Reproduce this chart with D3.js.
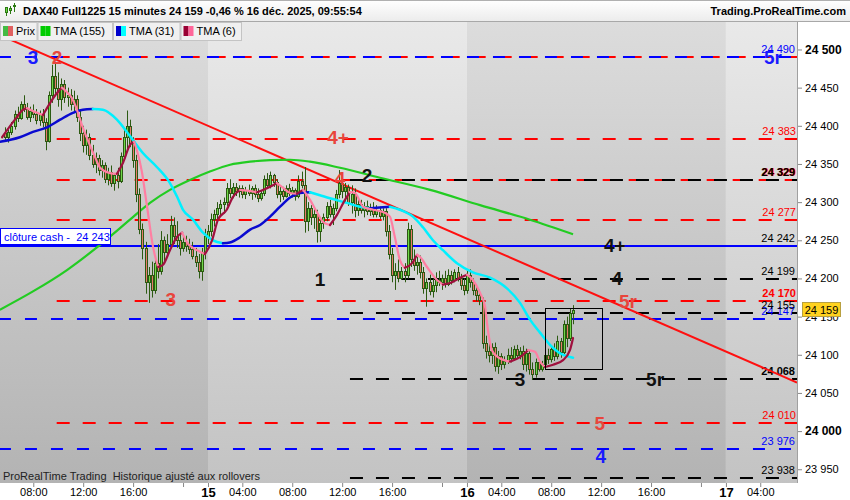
<!DOCTYPE html>
<html><head><meta charset="utf-8">
<script src="https://cdn.jsdelivr.net/npm/d3@7"></script>
<style>body{margin:0;background:#fff;} svg{display:block;font-family:"Liberation Sans",Arial,sans-serif;}</style>
</head><body><svg id="c" width="850" height="500"></svg>
<script>
// ---------------- DATA ----------------
// 15-minute candles [open, high, low, close], bar 0 = Fri 12 Dec 05:45
const candles = [
[24390,24398,24380,24385],[24385,24395,24378,24392],[24392,24405,24388,24400],[24400,24420,24395,24415],
[24415,24425,24405,24410],[24410,24432,24408,24428],[24428,24440,24418,24422],[24422,24430,24408,24412],
[24412,24425,24405,24420],[24420,24428,24410,24415],[24415,24422,24402,24408],[24408,24420,24400,24416],
[24416,24422,24398,24405],[24405,24410,24368,24380],[24380,24445,24378,24440],[24440,24480,24430,24465],
[24465,24482,24440,24450],[24450,24470,24425,24435],[24435,24462,24420,24455],[24455,24460,24430,24438],
[24438,24450,24425,24440],[24440,24448,24420,24428],[24428,24446,24418,24435],[24435,24440,24405,24412],
[24412,24420,24380,24390],[24390,24400,24365,24375],[24375,24395,24362,24385],[24385,24390,24355,24362],
[24362,24375,24345,24350],[24350,24365,24338,24358],[24358,24362,24335,24342],[24342,24355,24332,24348],
[24348,24352,24325,24330],[24330,24345,24322,24340],[24340,24348,24320,24325],[24325,24338,24315,24335],
[24335,24345,24318,24328],[24328,24365,24325,24360],[24360,24395,24355,24385],[24385,24420,24370,24400],
[24400,24408,24372,24378],[24378,24385,24345,24355],[24355,24362,24300,24310],[24310,24318,24258,24265],
[24265,24272,24225,24240],[24240,24248,24180,24195],[24195,24215,24168,24205],[24205,24222,24175,24185],
[24185,24230,24180,24220],[24220,24245,24200,24210],[24210,24262,24205,24250],[24250,24255,24220,24235],
[24235,24258,24228,24245],[24245,24282,24240,24270],[24270,24280,24245,24255],[24255,24275,24240,24250],
[24250,24258,24230,24240],[24240,24255,24235,24248],[24248,24256,24235,24242],[24242,24252,24232,24238],
[24238,24248,24225,24230],[24230,24240,24215,24222],[24222,24232,24200,24210],[24210,24240,24197,24235],
[24235,24265,24225,24255],
// Mon 15 Dec
[24255,24270,24245,24262],[24262,24285,24255,24278],[24278,24290,24268,24285],[24285,24300,24275,24292],
[24292,24303,24282,24298],[24298,24306,24285,24300],[24300,24325,24295,24318],[24318,24330,24305,24312],
[24312,24325,24305,24320],[24320,24325,24308,24315],[24315,24322,24306,24318],[24318,24322,24305,24310],
[24310,24320,24304,24316],[24316,24323,24308,24312],[24312,24321,24303,24318],[24318,24323,24306,24310],
[24310,24318,24300,24306],[24306,24315,24302,24312],[24312,24335,24308,24330],[24330,24338,24318,24322],
[24322,24340,24318,24335],[24335,24337,24320,24326],[24326,24330,24305,24310],[24310,24322,24300,24315],
[24315,24320,24303,24308],[24308,24322,24306,24318],[24318,24324,24308,24312],[24312,24320,24306,24316],
[24316,24318,24302,24308],[24308,24335,24305,24328],[24328,24340,24318,24322],[24322,24346,24260,24275],
[24275,24300,24262,24292],[24292,24296,24270,24280],[24280,24292,24265,24285],[24285,24290,24247,24262],
[24262,24280,24248,24272],[24272,24285,24265,24280],[24280,24300,24275,24295],[24295,24303,24280,24285],
[24285,24298,24270,24292],[24292,24316,24288,24310],[24310,24342,24305,24325],[24325,24330,24305,24315],
[24315,24325,24300,24320],[24320,24323,24295,24300],[24300,24322,24285,24310],[24310,24318,24280,24290],
[24290,24305,24282,24298],[24298,24303,24285,24290],[24290,24300,24280,24295],[24295,24302,24283,24288],
[24288,24298,24282,24294],[24294,24300,24280,24285],[24285,24296,24280,24290],[24290,24294,24278,24282],
[24282,24292,24276,24288],[24288,24292,24255,24262],[24262,24270,24225,24232],[24232,24240,24195,24205],
[24205,24220,24185,24210],[24210,24225,24195,24200],[24200,24215,24198,24210],[24210,24220,24195,24205],
[24205,24273,24200,24265],[24265,24270,24215,24225],[24225,24238,24210,24218],[24218,24228,24205,24222],
[24222,24230,24200,24208],[24208,24215,24180,24188],[24188,24200,24163,24195],[24195,24205,24178,24183],
[24183,24200,24175,24192],[24192,24208,24182,24198],[24198,24210,24190,24195],[24195,24205,24185,24200],
[24200,24210,24188,24193],[24193,24212,24190,24205],[24205,24210,24192,24198],[24198,24212,24195,24208],
[24208,24215,24196,24200],[24200,24206,24185,24192],[24192,24200,24178,24185],
// Tue 16 Dec
[24185,24210,24180,24205],[24205,24212,24188,24195],[24195,24200,24178,24185],[24185,24192,24170,24178],
[24178,24185,24165,24172],[24172,24175,24108,24115],[24115,24125,24095,24105],[24105,24118,24090,24100],
[24100,24115,24088,24110],[24110,24116,24078,24085],[24085,24105,24075,24098],[24098,24102,24080,24088],
[24088,24098,24082,24092],[24092,24108,24088,24100],[24100,24110,24090,24096],[24096,24112,24092,24108],
[24108,24113,24095,24100],[24100,24110,24094,24105],[24105,24112,24080,24088],[24088,24108,24078,24102],
[24102,24106,24074,24082],[24082,24090,24067,24075],[24075,24095,24070,24090],[24090,24094,24078,24082],
[24082,24092,24078,24088],[24088,24106,24084,24100],[24100,24108,24088,24095],[24095,24112,24090,24108],
[24108,24115,24092,24098],[24098,24125,24094,24118],[24118,24122,24096,24104],[24104,24145,24100,24140],
[24140,24150,24110,24122],[24122,24160,24118,24155],[24155,24165,24140,24159]
];
// Moving averages: [bar index, value]
const tma155 = [[-1.7,24159],[8.9,24183],[19.8,24211],[30.4,24244],[40,24277],[46.4,24299],[52.8,24316],[59.2,24329],[65.6,24340],[72.1,24349],[78.5,24353],[84.9,24355],[91.3,24355.5],[97.7,24353],[107.3,24345],[120.1,24332],[136.2,24316],[152.2,24296],[168.2,24277],[182,24258]];
const tma31 = [[-1.7,24379],[4.7,24385],[8.9,24392],[13.4,24398],[17.6,24408],[21.7,24417],[24.9,24421],[28.1,24422],[31.3,24421],[35.8,24408],[39,24392],[41,24381],[44.2,24364],[48.6,24346],[52.8,24325],[55.1,24307],[57,24290],[60.2,24277],[63.4,24260],[66.6,24250],[69.8,24246],[72,24247],[75.3,24254],[78.5,24264],[81.7,24270],[84.9,24281],[88.1,24294],[91.3,24306],[94.5,24312],[97.7,24313],[100.9,24309],[104.1,24305],[109.5,24299],[113.7,24294],[116.9,24292],[120,24293],[123.3,24294],[126.5,24290],[130.7,24281],[133.9,24267],[137.1,24250],[140.3,24237],[144.8,24220],[149.9,24208],[155.4,24201],[160.8,24187],[165,24168],[168.2,24146],[171.4,24129],[174.6,24113],[177.8,24102],[181,24097],[182,24096]];
const tma6 = [[-1,24385],[3.1,24408],[5.7,24421],[7,24423],[10.2,24417],[12.1,24414],[14.4,24430],[16.6,24443],[18.2,24450],[19.8,24444],[21.4,24436],[23,24421],[24.6,24401],[26.5,24381],[28.8,24359],[30.4,24345],[33.6,24338],[35.8,24337],[37.8,24352],[40,24375],[41.3,24379],[42.2,24368],[43.8,24340],[45.4,24296],[47.4,24241],[49,24215],[50.6,24218],[52.8,24237],[55,24254],[56.7,24260],[58.3,24247],[60.2,24240],[62.4,24235],[64,24232],[66.3,24250],[68.2,24277],[71,24290],[73,24307],[75.3,24316],[77.5,24315],[80.7,24313],[82.6,24316],[84.9,24320],[87.1,24325],[89,24319],[91.3,24312],[93.5,24311],[95.5,24316],[97.7,24303],[99.9,24287],[101.9,24274],[104.1,24270],[106.3,24283],[108.9,24303],[110.5,24313],[112.1,24312],[114.7,24294],[117.9,24290],[121.1,24287],[123.3,24281],[124.9,24254],[126.5,24224],[128.1,24214],[130.4,24220],[132,24231],[133,24228],[135.2,24215],[138.4,24198],[140.3,24192],[142.6,24194],[145.8,24201],[148,24205],[149.9,24198],[152.2,24181],[153.8,24163],[154.4,24142],[156,24106],[157.9,24097],[161.8,24091],[165,24097],[167.6,24106],[169.8,24104],[171.4,24091],[173,24084],[175.6,24087],[178.8,24093],[181,24106],[182,24122]];
// Horizontal levels
const redLevels = [24490, 24383, 24329, 24277, 24170, 24010];
const blueLevels = [24490, 24147, 23976];
const blackLevels = [24329, 24242, 24199, 24155, 24068, 23938];
const redStart = 16.5, blueStart = -2, blackStart = 110.5;
const cashClose = 24243;
const cashLabel = "clôture cash -\u00a0 24 243";
// Trend line through two points [bar, value]
const trend = [[15, 24489], [230, 24106]];
// Zoom box [bar0, value0, bar1, value1]
const zoomBox = [173, 24161, 191.3, 24081];
// Annotations
const annText = ["3","2","5r","4+","4","2","4+","1","4","3","5r","3","5r","5","4"];
const annBar  = [8.9,16.6,246.1,106.7,107.3,116,195.4,100.9,196.1,53.1,199.6,165,208.3,190.6,190.9];
const annVal  = [24490,24490,24490,24385,24332,24336,24244,24199,24200,24173,24170,24068,24068,24011,23968];
const annGroup= ["blue","red","blue","red","red","black","black","black","black","red","red","black","black","red","blue"];
// Sessions (bar index where each new day starts)
const sessionStarts = [65, 148, 231];
// Axis ticks
const yTicks = [24500,24450,24400,24350,24300,24250,24200,24150,24100,24050,24000,23950];
const xTickBars = [9,25,41,57,65,76,92,108,124,140,148,159,175,191,207,223,231,242];
const xTickLabels = ["08:00","12:00","16:00","","15","04:00","08:00","12:00","16:00","","16","04:00","08:00","12:00","16:00","","17","04:00"];
const lastPrice = 24159;
const titleText = "DAX40 Full1225 15 minutes 24 159 -0,46 % 16 déc. 2025, 09:55:54";
const legendItems = ["Prix","TMA (155)","TMA (31)","TMA (6)"];
const footText = "ProRealTime Trading\u00a0 Historique ajusté aux rollovers";

// ---------------- DRAW ----------------
const svg = d3.select("#c");
const PL=0, PR=797, PT=22, PB=483;
const x = d3.scaleLinear().domain([-1.667, 253.78]).range([PL, PR]);
const y = d3.scaleLinear().domain([23932, 24536]).range([PB, PT]);
const fmt = v => d3.format(",")(v).replace(/,/g, " ");

const defs = svg.append("defs");
function grad(id, c0, c1){
  const g = defs.append("linearGradient").attr("id", id).attr("x1",0).attr("y1",0).attr("x2",0).attr("y2",1);
  g.append("stop").attr("offset","0%").attr("stop-color",c0);
  g.append("stop").attr("offset","100%").attr("stop-color",c1);
}
grad("gDark", "#dcdcdc", "#b3b3b3");
grad("gLight", "#e9e9e9", "#c3c3c3");
grad("gHead", "#ffffff", "#ececec");
defs.append("clipPath").attr("id","plotClip").append("rect").attr("x",PL).attr("y",PT).attr("width",PR-PL).attr("height",PB-PT);

// backgrounds
svg.append("rect").attr("width",850).attr("height",500).attr("fill","#fff");
const bounds = [x.domain()[0], ...sessionStarts, x.domain()[1]];
for (let k=0;k<bounds.length-1;k++){
  svg.append("rect").attr("x",x(bounds[k])).attr("y",PT).attr("width",x(bounds[k+1])-x(bounds[k])).attr("height",PB-PT)
    .attr("fill", k%2===0 ? "url(#gDark)" : "url(#gLight)");
}

const plot = svg.append("g").attr("clip-path","url(#plotClip)");

// levels
const dash = "13,13";
function levelLine(v, start, color, w, dasharray){
  plot.append("line").attr("x1",x(start)).attr("x2",PR).attr("y1",Math.round(y(v))).attr("y2",Math.round(y(v)))
    .attr("stroke",color).attr("stroke-width",w).attr("stroke-dasharray",dasharray||null);
}
redLevels.forEach(v=>levelLine(v, redStart, "#ff0000", 2, dash));
blackLevels.forEach(v=>levelLine(v, blackStart, "#000000", 2, dash));
blueLevels.forEach(v=>levelLine(v, blueStart, "#0000ff", 2, "12,14"));
// cash close line
levelLine(cashClose, x.domain()[0], "#0000ff", 2, null);

// level labels
const boldLabels = new Set([24170, 24068, 24329]);
function levelLabel(v, color, dx){
  plot.append("text").attr("x",795+(dx||0)).attr("y",y(v)-4).attr("text-anchor","end")
    .attr("font-size",11).attr("font-weight", boldLabels.has(v) ? "bold":"normal")
    .attr("fill",color).text(fmt(v));
}
redLevels.slice(1).forEach(v=>levelLabel(v, "#ff0000", 1));
blueLevels.forEach(v=>levelLabel(v, "#0000ff", 0));
blackLevels.forEach(v=>levelLabel(v, "#000", 0));

// trend line (extended across plot)
const slope = (trend[1][1]-trend[0][1])/(trend[1][0]-trend[0][0]);
const tv = b => trend[0][1] + slope*(b-trend[0][0]);
const b0 = x.domain()[0], b1 = x.domain()[1];
plot.append("line").attr("x1",x(b0)).attr("y1",y(tv(b0))).attr("x2",x(b1)).attr("y2",y(tv(b1)))
  .attr("stroke","#ff1010").attr("stroke-width",2);

// TMA155
const line = d3.line().x(d=>x(d[0])).y(d=>y(d[1])).curve(d3.curveMonotoneX);
plot.append("path").attr("d",line(tma155)).attr("fill","none").attr("stroke","#22cc22").attr("stroke-width",2.2);

// candles
const cg = plot.append("g");
candles.forEach((c,i)=>{
  const cx = Math.round(x(i));
  const up = c[3] >= c[0];
  cg.append("line").attr("x1",cx+0.5).attr("x2",cx+0.5).attr("y1",y(c[1])).attr("y2",y(c[2]))
    .attr("stroke","#2c5a12").attr("stroke-width",1);
  const top = Math.round(y(Math.max(c[0],c[3]))), bot = Math.round(y(Math.min(c[0],c[3])));
  cg.append("rect").attr("x",cx-0.5).attr("y",top+0.5).attr("width",2).attr("height",Math.max(1,bot-top))
    .attr("fill", up ? "#6fd84a" : "#e87a6c").attr("stroke","#2c5a12").attr("stroke-width",1);
});

// slope-coloured lines
function colored(data, upC, dnC, w){
  const runs=[]; let cur=null, prev=1;
  for (let k=0;k<data.length-1;k++){
    let d = Math.sign(data[k+1][1]-data[k][1]) || prev;
    if(!cur || d!==cur.d){ cur={d, pts:[data[k]]}; runs.push(cur); }
    cur.pts.push(data[k+1]); prev=d;
  }
  runs.forEach(r=>plot.append("path").attr("d",line(r.pts)).attr("fill","none")
    .attr("stroke", r.d>0?upC:dnC).attr("stroke-width",w).attr("stroke-linecap","round"));
}
colored(tma31, "#0a0ad0", "#00f0ff", 2.5);
colored(tma6, "#a0103e", "#ff7fa2", 2.2);

// zoom box
plot.append("rect").attr("x",Math.round(x(zoomBox[0]))+0.5).attr("y",Math.round(y(zoomBox[1]))+0.5)
  .attr("width",Math.round(x(zoomBox[2])-x(zoomBox[0]))).attr("height",Math.round(y(zoomBox[3])-y(zoomBox[1])))
  .attr("fill","none").attr("stroke","#000").attr("stroke-width",1);

// annotations
const annColor = {blue:"#1a1aff", red:"#e8453c", black:"#111"};
annText.forEach((t,k)=>{
  plot.append("text").attr("x",x(annBar[k])).attr("y",y(annVal[k])+7).attr("text-anchor","middle")
    .attr("font-size",19).attr("font-weight","bold").attr("fill",annColor[annGroup[k]]).text(t);
});

// cash close label
const cl = svg.append("g");
cl.append("rect").attr("x",0.5).attr("y",228.5).attr("width",110).attr("height",16).attr("fill","#fff").attr("stroke","#0000ff");
cl.append("text").attr("x",4).attr("y",241).attr("font-size",11).attr("fill","#0000ff").text(cashLabel);

// bottom-left text
svg.append("text").attr("x",3).attr("y",480).attr("font-size",11).attr("fill","#222").text(footText);

// header
svg.append("rect").attr("x",0).attr("y",0).attr("width",850).attr("height",21).attr("fill","url(#gHead)");
svg.append("line").attr("x1",0).attr("x2",850).attr("y1",0.5).attr("y2",0.5).attr("stroke","#b0b0b0");
svg.append("line").attr("x1",0).attr("x2",850).attr("y1",21.5).attr("y2",21.5).attr("stroke","#a8a8a8");
const ic = svg.append("g");
[[5,10,7,16,12,14],[9,6,8,14,10,12],[13,3,5,12,6,9]].forEach(a=>{
  ic.append("line").attr("x1",a[0]+1.5).attr("x2",a[0]+1.5).attr("y1",a[1]).attr("y2",a[3]).attr("stroke","#2c7a12");
  ic.append("rect").attr("x",a[0]+0.5).attr("y",a[2]+0.5).attr("width",2).attr("height",a[4]-a[2]).attr("fill","#6fd84a").attr("stroke","#2c7a12");
});
svg.append("text").attr("x",23).attr("y",15).attr("font-size",11).attr("font-weight","bold").attr("fill","#000").text(titleText);
svg.append("text").attr("x",846).attr("y",15).attr("text-anchor","end").attr("font-size",11).attr("font-weight","bold").attr("fill","#000").text("Trading.ProRealTime.com");

// legend
const lg = svg.append("g");
const legBoxes = [[0,37.5],[37.5,113],[113,180.5],[180.5,242]];
const legIcon = [["#44bb44","#e06060"],["#00cc00","#00cc00"],["#0000cc","#00ffff"],["#990033","#ff6699"]];
legendItems.forEach((t,k)=>{
  const [a,b] = legBoxes[k];
  lg.append("rect").attr("x",a+0.5).attr("y",22.5).attr("width",b-a-1).attr("height",18).attr("fill","#f0f0f0").attr("stroke","#c4c4c4");
  lg.append("rect").attr("x",a+3).attr("y",26).attr("width",5).attr("height",10).attr("fill",legIcon[k][0]);
  lg.append("rect").attr("x",a+8).attr("y",26).attr("width",5).attr("height",10).attr("fill",legIcon[k][1]);
  lg.append("text").attr("x",a+16).attr("y",35).attr("font-size",11).attr("fill","#000").text(t);
});

// right axis
const ya = svg.append("g").attr("transform",`translate(${PR},0)`)
  .call(d3.axisRight(y).tickValues(yTicks).tickSize(5).tickFormat(fmt));
ya.select(".domain").remove();
ya.selectAll(".tick line").attr("stroke","#888");
ya.selectAll(".tick text").attr("x",8).attr("fill","#000").attr("font-family","Liberation Sans, Arial, sans-serif")
  .attr("font-size", d=> d%500===0 ? 12 : 11).attr("font-weight", d=> d%500===0 ? "bold":"normal");
svg.append("line").attr("x1",PR+0.5).attr("x2",PR+0.5).attr("y1",PT).attr("y2",PB).attr("stroke","#a0a0a0");

// last price box
svg.append("rect").attr("x",802.5).attr("y",Math.round(y(lastPrice))-7.5).attr("width",38).attr("height",14)
  .attr("fill","#ffd21f").attr("stroke","#b8a040");
svg.append("text").attr("x",821.5).attr("y",Math.round(y(lastPrice))+4).attr("text-anchor","middle").attr("font-size",11).attr("fill","#000").text(fmt(lastPrice));

// bottom axis
const xa = svg.append("g").attr("transform",`translate(0,${PB})`)
  .call(d3.axisBottom(x).tickValues(xTickBars).tickSize(4).tickFormat((d,k)=>xTickLabels[k]));
xa.select(".domain").remove();
xa.selectAll(".tick line").attr("stroke","#888");
xa.selectAll(".tick text").attr("y",5).attr("fill","#000").attr("font-family","Liberation Sans, Arial, sans-serif")
  .attr("font-size",(d,k)=> /^\d\d$/.test(xTickLabels[k]) ? 13 : 11)
  .attr("font-weight",(d,k)=> /^\d\d$/.test(xTickLabels[k]) ? "bold" : "normal");
</script></body></html>
